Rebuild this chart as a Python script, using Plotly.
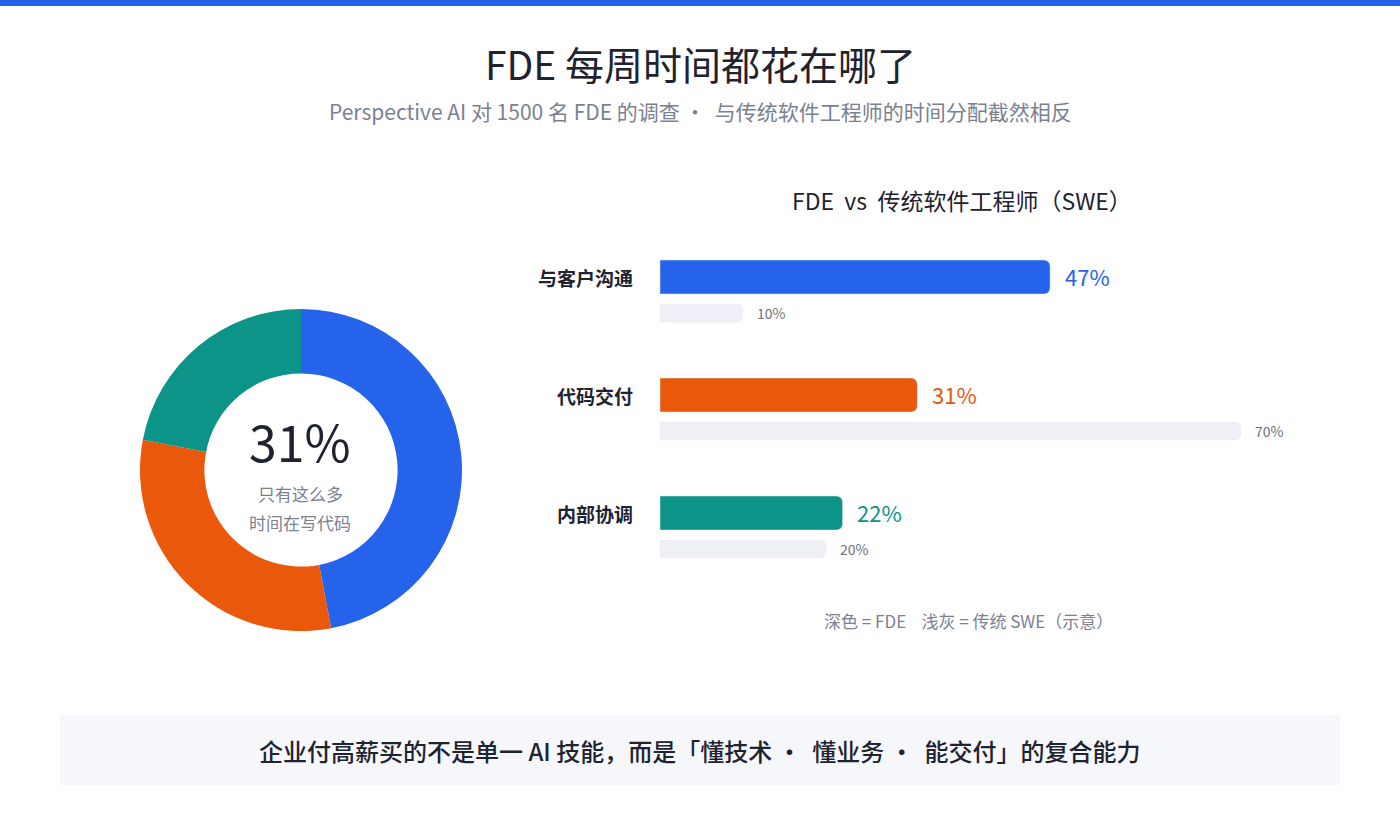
import plotly.graph_objects as go

categories = ["与客户沟通", "代码交付", "内部协调"]
fde_values = [47, 31, 22]
swe_values = [10, 70, 20]
colors = ["#2563eb", "#ea580c", "#0d9488"]
W, H = 1400, 820
F = "Noto Sans CJK SC"
PX = 8.3  # pixels per percent
X0 = 660
row_y = [277, 395, 513]

fig = go.Figure()
fig.add_trace(go.Pie(values=fde_values, labels=categories, marker=dict(colors=colors, line=dict(width=0)),
                     hole=0.6, sort=False, direction="clockwise", rotation=0, textinfo="none",
                     hoverinfo="label+percent", showlegend=False,
                     domain=dict(x=[140/W, 462/W], y=[1-631/H, 1-309/H])))
fig.add_trace(go.Bar(x=fde_values, y=row_y, orientation="h", width=34, marker=dict(color=colors, cornerradius=6),
                     showlegend=False, xaxis="x", yaxis="y"))
fig.add_trace(go.Bar(x=swe_values, y=[r + 36 for r in row_y], orientation="h", width=18,
                     marker=dict(color="#eef0f5", cornerradius=6), showlegend=False, xaxis="x", yaxis="y"))

ann = []
for i, c in enumerate(categories):
    ann.append(dict(x=-3, y=row_y[i], text=f"<b>{c}</b>", xanchor="right", showarrow=False,
                    font=dict(size=19, color="#1f2330", family=F), xref="x", yref="y"))
    ann.append(dict(x=fde_values[i] + 1.5, y=row_y[i] - 1, text=f"{fde_values[i]}%", xanchor="left", showarrow=False,
                    font=dict(size=22, color=colors[i], family=F), xref="x", yref="y"))
    ann.append(dict(x=swe_values[i] + 1.5, y=row_y[i] + 36, text=f"{swe_values[i]}%", xanchor="left", showarrow=False,
                    font=dict(size=14, color="#6b7280", family=F), xref="x", yref="y"))

def t(x, y, text, size, color, anchor="center", weight="normal"):
    ann.append(dict(x=x/W, y=1-y/H, xref="paper", yref="paper", text=text, showarrow=False,
                    xanchor=anchor, yanchor="middle", font=dict(size=size, color=color, family=F, weight=weight)))

t(700, 63, "FDE 每周时间都花在哪了", 39, "#1f2330")
t(700, 111, "Perspective AI 对 1500 名 FDE 的调查 ·  与传统软件工程师的时间分配截然相反", 21, "#7b8190")
t(962, 200, "FDE  vs  传统软件工程师（SWE）", 23, "#1f2330")
t(300, 440, "31%", 50, "#1f2330")
t(300, 493, "只有这么多", 17, "#7b8190")
t(300, 522, "时间在写代码", 17, "#7b8190")
t(968, 620, "深色 = FDE    浅灰 = 传统 SWE（示意）", 17, "#7b8190")
t(700, 750, "企业付高薪买的不是单一 AI 技能，而是「懂技术 ·  懂业务 ·  能交付」的复合能力", 24, "#1f2330", weight=500)

shapes = [
    dict(type="rect", xref="paper", yref="paper", x0=0, x1=1, y0=1-6/H, y1=1, fillcolor="#2563eb", line_width=0),
    dict(type="rect", xref="paper", yref="paper", x0=60/W, x1=1340/W, y0=1-785/H, y1=1-715/H,
         fillcolor="#f5f7fb", line_width=0, layer="below"),
]

fig.update_layout(width=W, height=H, margin=dict(l=0, r=0, t=0, b=0), paper_bgcolor="white",
                  plot_bgcolor="rgba(0,0,0,0)", barmode="overlay", annotations=ann, shapes=shapes,
                  xaxis=dict(range=[-X0/PX, (W-X0)/PX], domain=[0, 1], visible=False, fixedrange=True),
                  yaxis=dict(range=[H, 0], domain=[0, 1], visible=False, fixedrange=True))
fig.write_html("out.html", config={"displayModeBar": False},
               post_script="document.body.style.margin='0';document.body.style.overflow='hidden';")
